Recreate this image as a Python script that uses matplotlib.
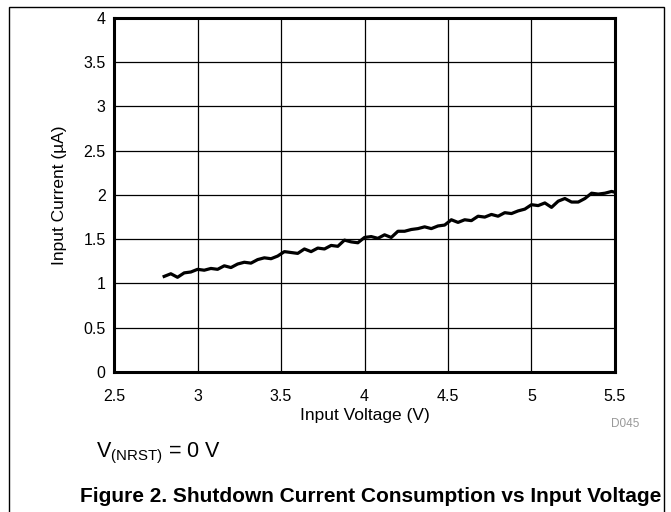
import matplotlib.pyplot as plt
from matplotlib.patches import Rectangle

# Datos
voltaje = [2.80, 2.84, 2.88, 2.92, 2.96, 3.00, 3.04, 3.08, 3.12, 3.16, 3.20, 3.24,
           3.28, 3.32, 3.36, 3.40, 3.44, 3.48, 3.52, 3.56, 3.60, 3.64, 3.68, 3.72,
           3.76, 3.80, 3.84, 3.88, 3.92, 3.96, 4.00, 4.04, 4.08, 4.12, 4.16, 4.20,
           4.24, 4.28, 4.32, 4.36, 4.40, 4.44, 4.48, 4.52, 4.56, 4.60, 4.64, 4.68,
           4.72, 4.76, 4.80, 4.84, 4.88, 4.92, 4.96, 5.00, 5.04, 5.08, 5.12, 5.16,
           5.20, 5.24, 5.28, 5.32, 5.36, 5.40, 5.44, 5.48, 5.50]
corriente = [1.08, 1.11, 1.07, 1.12, 1.13, 1.16, 1.15, 1.17, 1.16, 1.20, 1.18, 1.22,
             1.24, 1.23, 1.27, 1.29, 1.28, 1.31, 1.36, 1.35, 1.34, 1.39, 1.36, 1.40,
             1.39, 1.43, 1.42, 1.49, 1.47, 1.46, 1.52, 1.53, 1.51, 1.55, 1.52, 1.59,
             1.59, 1.61, 1.62, 1.64, 1.62, 1.65, 1.66, 1.72, 1.69, 1.72, 1.71, 1.76,
             1.75, 1.78, 1.76, 1.80, 1.79, 1.82, 1.84, 1.89, 1.88, 1.91, 1.86, 1.93,
             1.96, 1.92, 1.92, 1.96, 2.02, 2.01, 2.02, 2.04, 2.03]

xticks = [2.5, 3, 3.5, 4, 4.5, 5, 5.5]
xtick_labels = ['2.5', '3', '3.5', '4', '4.5', '5', '5.5']
yticks = [0, 0.5, 1, 1.5, 2, 2.5, 3, 3.5, 4]
ytick_labels = ['0', '0.5', '1', '1.5', '2', '2.5', '3', '3.5', '4']

plt.rcParams['font.family'] = ['Liberation Sans', 'DejaVu Sans']

fig = plt.figure(figsize=(6.71, 5.12), dpi=100)
ax = fig.add_axes([0.170, 0.2734, 0.7465, 0.6916])

ax.plot(voltaje, corriente, color='black', linewidth=2.3)

ax.set_xlim(2.5, 5.5)
ax.set_ylim(0, 4)
ax.set_xticks(xticks)
ax.set_xticklabels(xtick_labels, fontsize=11.5)
ax.set_yticks(yticks)
ax.set_yticklabels(ytick_labels, fontsize=11.5)
ax.tick_params(axis='x', length=0, pad=12)
ax.tick_params(axis='y', length=0, pad=6)
ax.grid(True, color='black', linewidth=0.9)
for s in ax.spines.values():
    s.set_linewidth(2.2)

ax.set_xlabel('Input Voltage (V)', fontsize=12.5, labelpad=3)
ax.set_ylabel('Input Current (\u00b5A)', fontsize=12.5, labelpad=12)

# Textos fuera del grafico
fig.text(0.910, 0.172, 'D045', fontsize=8.5, color='#999999', ha='left', va='center')
fig.text(0.143, 0.107, r'V$_{\mathregular{(NRST)}}$ = 0 V', fontsize=15.5,
         ha='left', va='baseline')
fig.text(0.553, 0.031, 'Figure 2. Shutdown Current Consumption vs Input Voltage',
         fontsize=15, fontweight='bold', ha='center', va='center')

# Marco de la figura
fig.patches.append(Rectangle((0.013, -0.01), 0.977, 0.997, transform=fig.transFigure,
                             fill=False, edgecolor='black', linewidth=1))

fig.savefig('out.png', dpi=100)
